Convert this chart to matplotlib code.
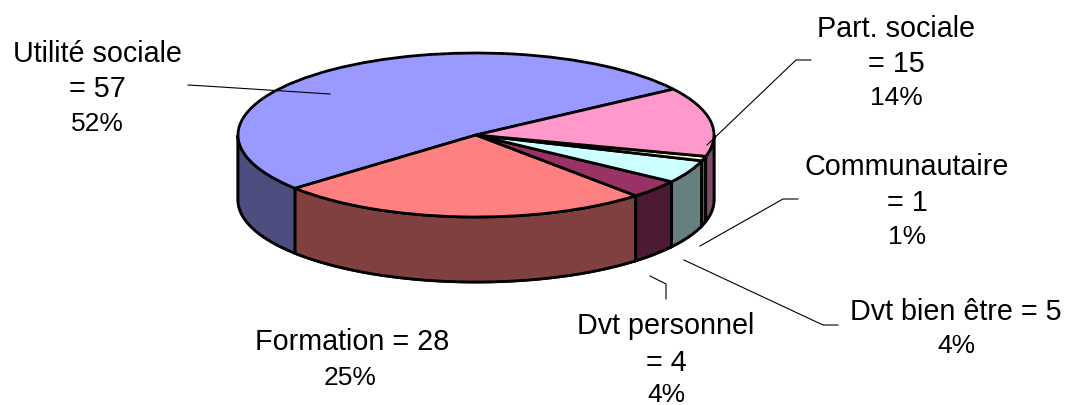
#!/usr/bin/env python
# -*- coding: utf-8 -*-
"""3D-looking pie chart of the categories, drawn as a squashed pie with side walls."""

import matplotlib
matplotlib.use("Agg")
import matplotlib.pyplot as plt
import numpy as np
from matplotlib.patches import Polygon

LABELS = [["Utilité sociale", "= 57"], ["Formation = 28"], ["Dvt personnel", "= 4"],
          ["Dvt bien être = 5"], ["Communautaire", "= 1"], ["Part. sociale", "= 15"]]
VALUES = [57, 28, 4, 5, 1, 15]
PERCENTS = ["52%", "25%", "4%", "4%", "1%", "14%"]
TOP_COLORS = ["#9999ff", "#ff8080", "#993366", "#ccffff", "#ffffcc", "#ff99cc"]
SIDE_COLORS = ["#4d4d80", "#804040", "#4d1a33", "#668080", "#808066", "#804d66"]

W, H = 1071, 405
CX, CY = 476, 135
RX, RY = 238, 82
DEPTH = 65
START_ANGLE = 34

# label centre x, baselines of the label lines, baseline of the percent line
LABEL_X = [97, 352, 666, 956, 907, 896]
LABEL_BASE = [[62, 97], [350], [334, 371], [320], [175, 211], [37, 72]]
PCT_X = [97, 350, 666, 956, 907, 896]
PCT_BASE = [131, 385, 402, 353, 244, 105]

LEADERS = [
    [(188, 85), (205, 86), (330, 94)],
    [],
    [(650, 276), (666, 284), (666, 299)],
    [(684, 260), (823, 325), (838, 325)],
    [(700, 246), (783, 199), (798, 199)],
    [(707, 145), (796, 60), (811, 60)],
]

plt.rcParams["font.family"] = ["Liberation Sans", "DejaVu Sans"]


def add_wall(ax, lo, hi, depth, color):
    t = np.radians(np.linspace(lo, hi, 80))
    xs, ys = np.cos(t), np.sin(t)
    pts = np.column_stack([np.r_[xs, xs[::-1]], np.r_[ys, ys[::-1] - depth]])
    ax.add_patch(Polygon(pts, closed=True, facecolor=color, edgecolor="black",
                         linewidth=2.0, zorder=2))


fig = plt.figure(figsize=(W / 100, H / 100), dpi=100)
ax = fig.add_axes([0, 0, 1, 1])

wedges, _ = ax.pie(VALUES, colors=TOP_COLORS, startangle=START_ANGLE, radius=1.0,
                   wedgeprops={"edgecolor": "black", "linewidth": 2.0, "zorder": 3})
ax.set_aspect("auto")
ax.set_xlim(-CX / RX, (W - CX) / RX)
ax.set_ylim(-(H - CY) / RY, CY / RY)
ax.axis("off")

# side walls, only the part of each slice facing the viewer (lower half)
depth = DEPTH / RY
for wedge, color in zip(wedges, SIDE_COLORS):
    a0, a1 = wedge.theta1, wedge.theta2
    if max(a0, 180) < min(a1, 360):
        add_wall(ax, max(a0, 180), min(a1, 360), depth, color)
    if max(a0 - 360, -180) < min(a1 - 360, 0):
        add_wall(ax, max(a0 - 360, -180), min(a1 - 360, 0), depth, color)

# overlay in pixels for the labels and leader lines
over = fig.add_axes([0, 0, 1, 1])
over.set_xlim(0, W)
over.set_ylim(H, 0)
over.axis("off")
over.patch.set_alpha(0)

for i, lines in enumerate(LABELS):
    for line, y in zip(lines, LABEL_BASE[i]):
        over.text(LABEL_X[i], y, line, ha="center", va="baseline", fontsize=20.7, color="black")
    over.text(PCT_X[i], PCT_BASE[i], PERCENTS[i], ha="center", va="baseline",
              fontsize=19, color="black")
    if LEADERS[i]:
        over.plot([p[0] for p in LEADERS[i]], [p[1] for p in LEADERS[i]], color="black", lw=0.8)

fig.savefig("out.png", dpi=100)
